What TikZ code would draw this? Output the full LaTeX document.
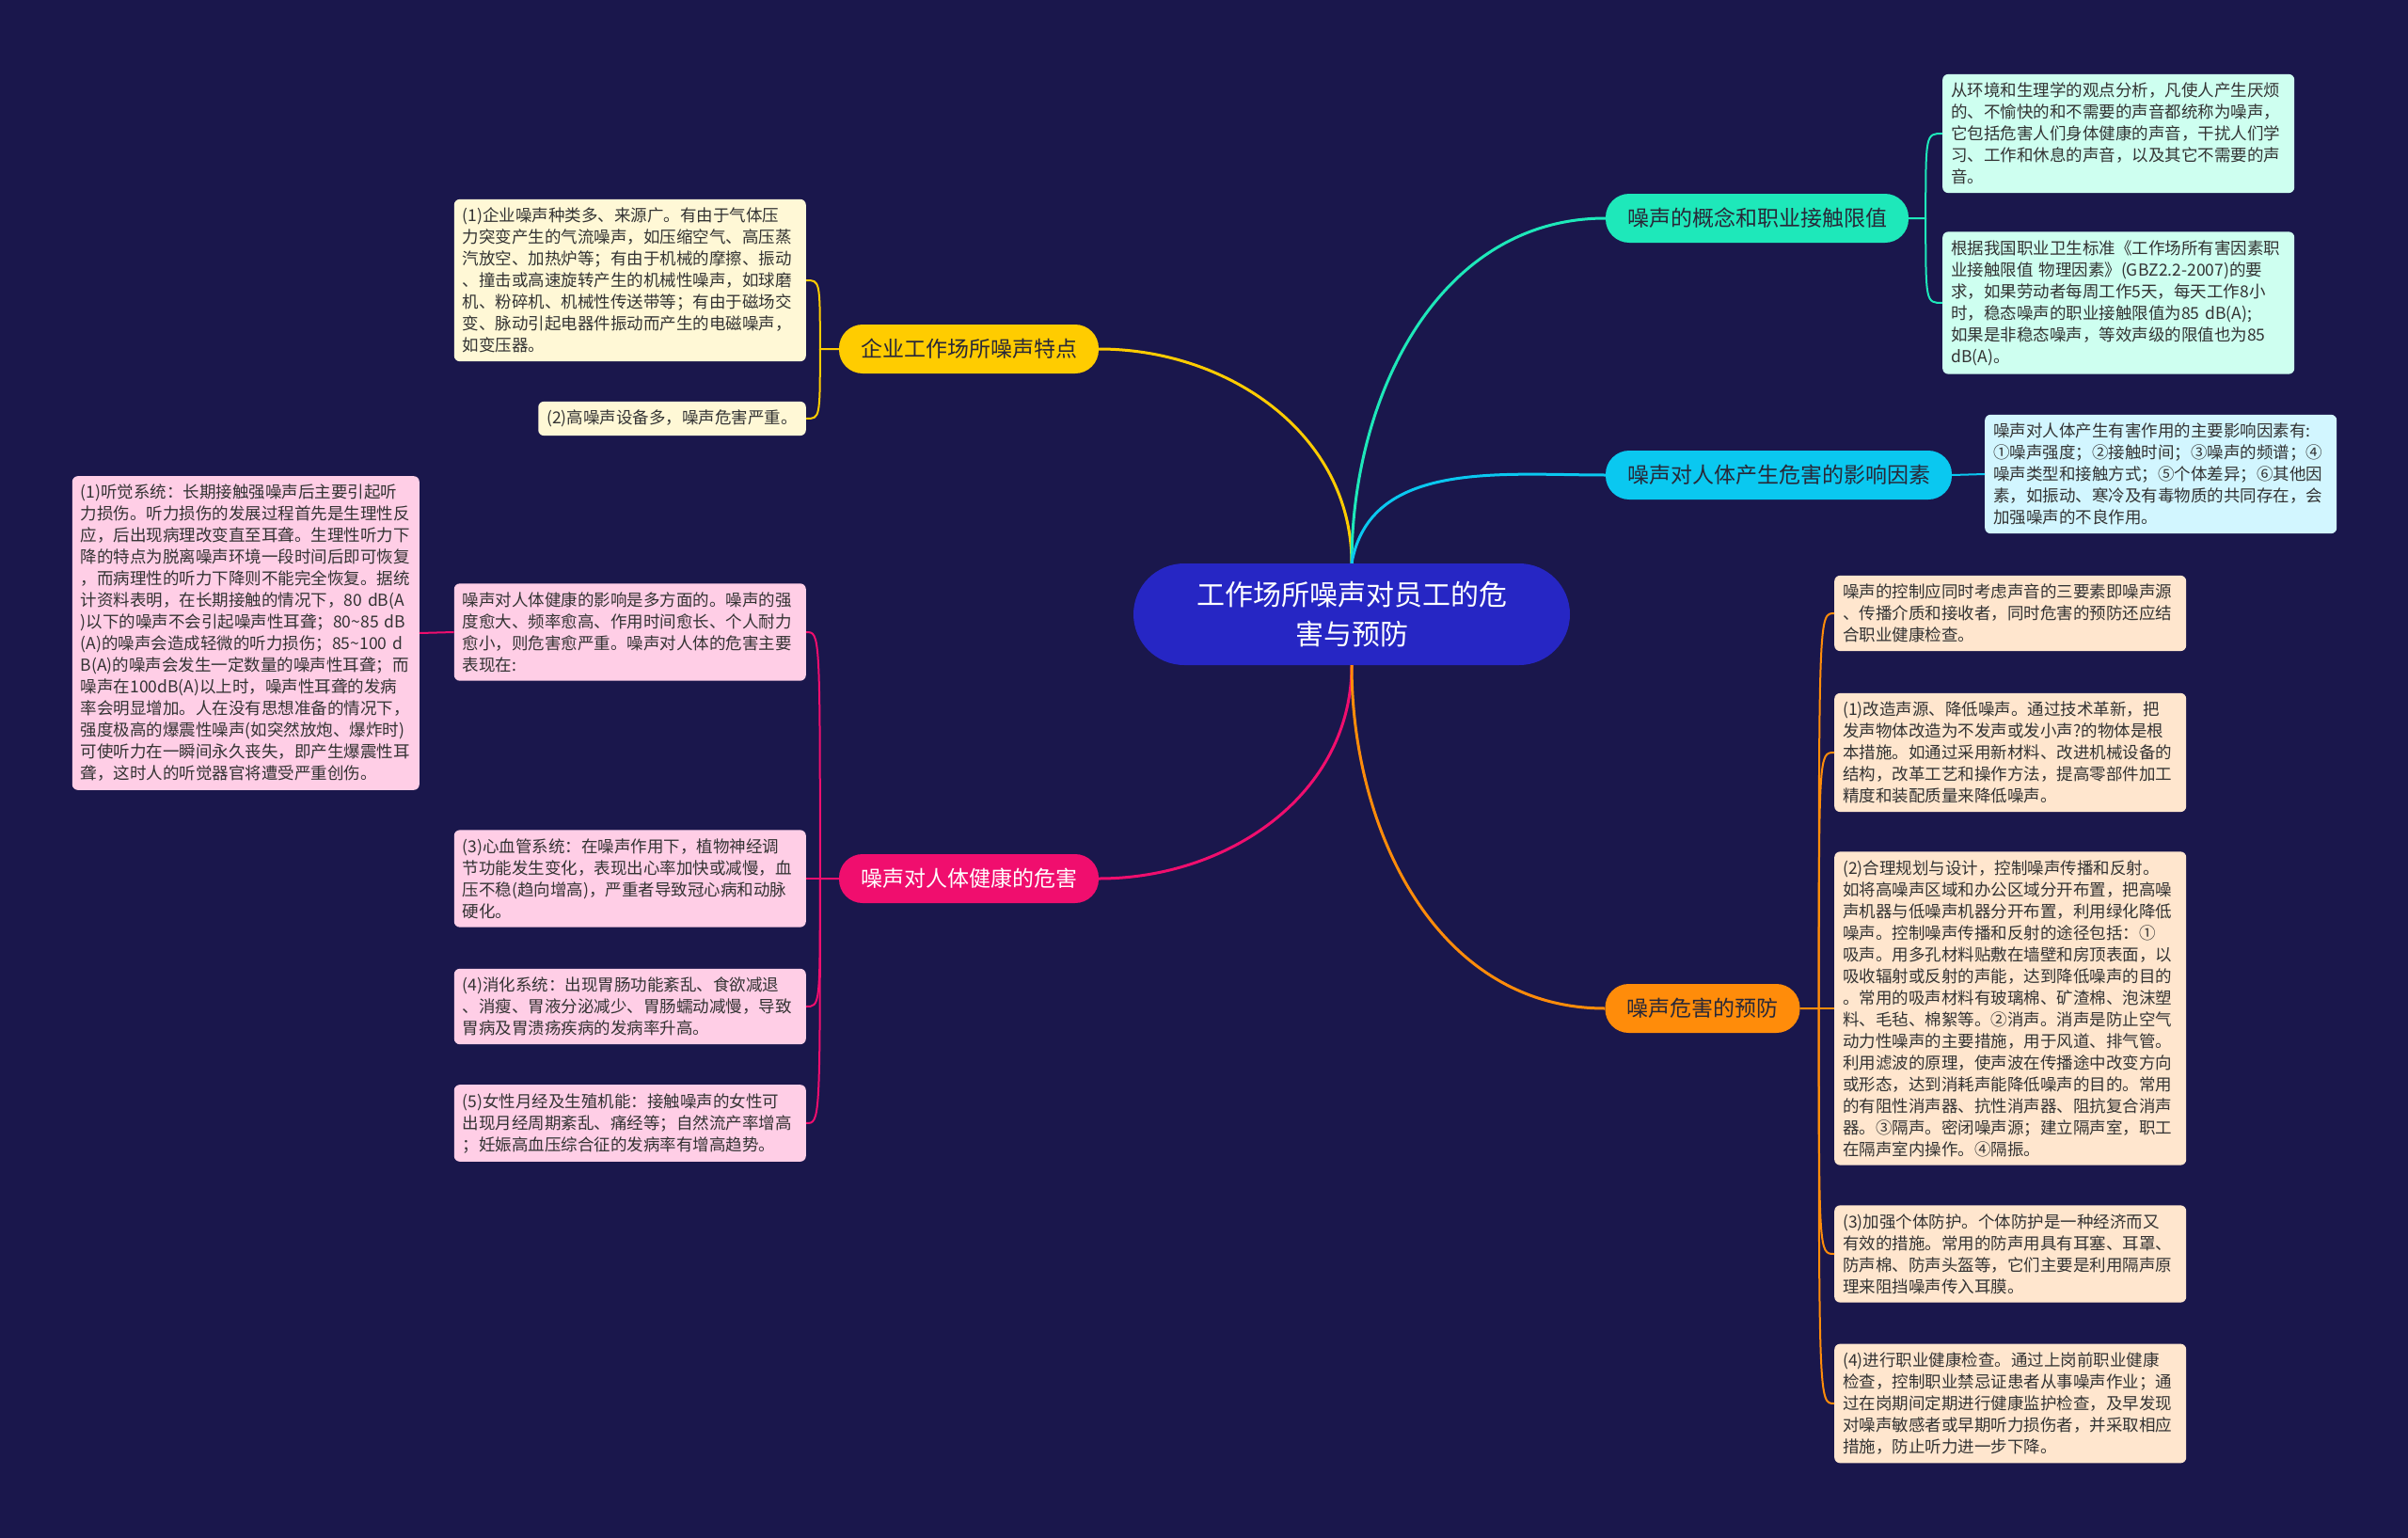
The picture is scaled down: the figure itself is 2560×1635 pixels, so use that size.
\documentclass[tikz,border=0pt]{standalone}
\usepackage{fontspec}
\setmainfont{Noto Sans CJK SC}
\usetikzlibrary{calc}
\definecolor{bgnavy}{RGB}{26,23,76}
\definecolor{rootblue}{RGB}{38,38,196}
\definecolor{tealtopic}{RGB}{30,232,186}
\definecolor{tealleaf}{RGB}{206,255,240}
\definecolor{cyantopic}{RGB}{10,200,240}
\definecolor{cyanleaf}{RGB}{210,246,255}
\definecolor{yellowtopic}{RGB}{255,204,0}
\definecolor{yellowleaf}{RGB}{255,248,214}
\definecolor{pinktopic}{RGB}{240,14,110}
\definecolor{pinkleaf}{RGB}{255,206,230}
\definecolor{orangetopic}{RGB}{255,140,10}
\definecolor{orangeleaf}{RGB}{255,230,206}
\definecolor{darktext}{RGB}{40,40,56}
\definecolor{leaftext}{RGB}{51,51,51}

\tikzset{
  rootbox/.style={fill=rootblue, text=white, rounded corners=54pt, minimum width=464pt,
    minimum height=108pt, align=center, font=\fontsize{30}{42}\selectfont},
  topic/.style={rounded corners=25pt, minimum height=52pt, inner xsep=23pt,
    text=darktext, font=\fontsize{23}{28}\selectfont},
  leaf/.style={rounded corners=6pt, inner xsep=9pt, inner ysep=9pt, align=left,
    text width=356pt, text=leaftext, font=\fontsize{17.5}{23}\selectfont},
  link/.style={line width=3pt},
  sublink/.style={line width=2pt},
}

\begin{document}
\begin{tikzpicture}[x=1pt,y=1pt]

\fill[bgnavy] (0,0) rectangle (2560,-1635);
\useasboundingbox (0,0) rectangle (2560,-1635);

% centre
\node[rootbox] (root) at (1437,-653) {工作场所噪声对员工的危\\害与预防};

% topics
\node[topic, fill=tealtopic] (tc) at (1868,-232) {噪声的概念和职业接触限值};
\node[topic, fill=cyantopic] (cf) at (1891,-505) {噪声对人体产生危害的影响因素};
\node[topic, fill=yellowtopic] (yf) at (1030,-371) {企业工作场所噪声特点};
\node[topic, fill=pinktopic, text=white] (ph) at (1030,-934) {噪声对人体健康的危害};
\node[topic, fill=orangetopic] (op) at (1810,-1072) {噪声危害的预防};

% teal leaves
\node[leaf, fill=tealleaf, anchor=west] (tc1) at (2065,-142) {从环境和生理学的观点分析，凡使人产生厌烦\\的、不愉快的和不需要的声音都统称为噪声，\\它包括危害人们身体健康的声音，干扰人们学\\习、工作和休息的声音，以及其它不需要的声\\音。};
\node[leaf, fill=tealleaf, anchor=west] (tc2) at (2065,-322) {根据我国职业卫生标准《工作场所有害因素职\\业接触限值 物理因素》(GBZ2.2-2007)的要\\求，如果劳动者每周工作5天，每天工作8小\\时，稳态噪声的职业接触限值为85 dB(A);\\如果是非稳态噪声，等效声级的限值也为85\\dB(A)。};

% cyan leaf
\node[leaf, fill=cyanleaf, anchor=west] (cf1) at (2110,-504) {噪声对人体产生有害作用的主要影响因素有:\\①噪声强度；②接触时间；③噪声的频谱；④\\噪声类型和接触方式；⑤个体差异；⑥其他因\\素，如振动、寒冷及有毒物质的共同存在，会\\加强噪声的不良作用。};

% yellow leaves
\node[leaf, fill=yellowleaf, anchor=east] (yf1) at (857,-298) {(1)企业噪声种类多、来源广。有由于气体压\\力突变产生的气流噪声，如压缩空气、高压蒸\\汽放空、加热炉等；有由于机械的摩擦、振动\\、撞击或高速旋转产生的机械性噪声，如球磨\\机、粉碎机、机械性传送带等；有由于磁场交\\变、脉动引起电器件振动而产生的电磁噪声，\\如变压器。};
\node[leaf, fill=yellowleaf, anchor=east, text width=] (yf2) at (857,-445) {(2)高噪声设备多，噪声危害严重。};

% pink leaves
\node[leaf, fill=pinkleaf, anchor=east] (ph0) at (857,-672) {噪声对人体健康的影响是多方面的。噪声的强\\度愈大、频率愈高、作用时间愈长、个人耐力\\愈小，则危害愈严重。噪声对人体的危害主要\\表现在:};
\node[leaf, fill=pinkleaf, anchor=east, text width=351pt] (ph1) at (446,-673) {(1)听觉系统：长期接触强噪声后主要引起听\\力损伤。听力损伤的发展过程首先是生理性反\\应，后出现病理改变直至耳聋。生理性听力下\\降的特点为脱离噪声环境一段时间后即可恢复\\，而病理性的听力下降则不能完全恢复。据统\\计资料表明，在长期接触的情况下，80 dB(A\\)以下的噪声不会引起噪声性耳聋；80\textasciitilde85 dB\\(A)的噪声会造成轻微的听力损伤；85\textasciitilde100 d\\B(A)的噪声会发生一定数量的噪声性耳聋；而\\噪声在100dB(A)以上时，噪声性耳聋的发病\\率会明显增加。人在没有思想准备的情况下，\\强度极高的爆震性噪声(如突然放炮、爆炸时)\\可使听力在一瞬间永久丧失，即产生爆震性耳\\聋，这时人的听觉器官将遭受严重创伤。};
\node[leaf, fill=pinkleaf, anchor=east] (ph3) at (857,-934) {(3)心血管系统：在噪声作用下，植物神经调\\节功能发生变化，表现出心率加快或减慢，血\\压不稳(趋向增高)，严重者导致冠心病和动脉\\硬化。};
\node[leaf, fill=pinkleaf, anchor=east] (ph4) at (857,-1070) {(4)消化系统：出现胃肠功能紊乱、食欲减退\\、消瘦、胃液分泌减少、胃肠蠕动减慢，导致\\胃病及胃溃疡疾病的发病率升高。};
\node[leaf, fill=pinkleaf, anchor=east] (ph5) at (857,-1194) {(5)女性月经及生殖机能：接触噪声的女性可\\出现月经周期紊乱、痛经等；自然流产率增高\\；妊娠高血压综合征的发病率有增高趋势。};

% orange leaves
\node[leaf, fill=orangeleaf, anchor=west] (op0) at (1950,-652) {噪声的控制应同时考虑声音的三要素即噪声源\\、传播介质和接收者，同时危害的预防还应结\\合职业健康检查。};
\node[leaf, fill=orangeleaf, anchor=west] (op1) at (1950,-800) {(1)改造声源、降低噪声。通过技术革新，把\\发声物体改造为不发声或发小声?的物体是根\\本措施。如通过采用新材料、改进机械设备的\\结构，改革工艺和操作方法，提高零部件加工\\精度和装配质量来降低噪声。};
\node[leaf, fill=orangeleaf, anchor=west] (op2) at (1950,-1072) {(2)合理规划与设计，控制噪声传播和反射。\\如将高噪声区域和办公区域分开布置，把高噪\\声机器与低噪声机器分开布置，利用绿化降低\\噪声。控制噪声传播和反射的途径包括：①\\吸声。用多孔材料贴敷在墙壁和房顶表面，以\\吸收辐射或反射的声能，达到降低噪声的目的\\。常用的吸声材料有玻璃棉、矿渣棉、泡沫塑\\料、毛毡、棉絮等。②消声。消声是防止空气\\动力性噪声的主要措施，用于风道、排气管。\\利用滤波的原理，使声波在传播途中改变方向\\或形态，达到消耗声能降低噪声的目的。常用\\的有阻性消声器、抗性消声器、阻抗复合消声\\器。③隔声。密闭噪声源；建立隔声室，职工\\在隔声室内操作。④隔振。};
\node[leaf, fill=orangeleaf, anchor=west] (op3) at (1950,-1333) {(3)加强个体防护。个体防护是一种经济而又\\有效的措施。常用的防声用具有耳塞、耳罩、\\防声棉、防声头盔等，它们主要是利用隔声原\\理来阻挡噪声传入耳膜。};
\node[leaf, fill=orangeleaf, anchor=west] (op4) at (1950,-1492) {(4)进行职业健康检查。通过上岗前职业健康\\检查，控制职业禁忌证患者从事噪声作业；通\\过在岗期间定期进行健康监护检查，及早发现\\对噪声敏感者或早期听力损伤者，并采取相应\\措施，防止听力进一步下降。};

% centre to topics
\draw[link, yellowtopic] (root.north) to[out=90,in=0] (yf.east);
\draw[link, tealtopic] (root.north) to[out=90,in=180] (tc.west);
\draw[link, cyantopic] (root.north) to[out=80,in=180] (cf.west);
\draw[link, pinktopic] (root.south) to[out=-90,in=0] (ph.east);
\draw[link, orangetopic] (root.south) to[out=-90,in=180] (op.west);

% topics to leaves
\coordinate (tcj) at ($(tc.east)+(18,0)$);
\draw[sublink, tealtopic] (tc.east) -- (tcj) .. controls (tcj |- tc1.west) .. (tc1.west);
\draw[sublink, tealtopic] (tcj) .. controls (tcj |- tc2.west) .. (tc2.west);

\draw[sublink, cyantopic] (cf.east) -- (cf1.west);

\coordinate (yfj) at ($(yf.west)+(-20,0)$);
\draw[sublink, yellowtopic] (yf.west) -- (yfj) .. controls (yfj |- yf1.east) .. (yf1.east);
\draw[sublink, yellowtopic] (yfj) .. controls (yfj |- yf2.east) .. (yf2.east);

\coordinate (phj) at ($(ph.west)+(-20,0)$);
\draw[sublink, pinktopic] (ph.west) -- (phj) .. controls (phj |- ph0.east) .. (ph0.east);
\draw[sublink, pinktopic] (phj) -- (ph3.east);
\draw[sublink, pinktopic] (phj) .. controls (phj |- ph4.east) .. (ph4.east);
\draw[sublink, pinktopic] (phj) .. controls (phj |- ph5.east) .. (ph5.east);
\draw[sublink, pinktopic] (ph0.west) -- (ph1.east);

\coordinate (opj) at ($(op.east)+(20,0)$);
\draw[sublink, orangetopic] (op.east) -- (opj) .. controls (opj |- op0.west) .. (op0.west);
\draw[sublink, orangetopic] (opj) .. controls (opj |- op1.west) .. (op1.west);
\draw[sublink, orangetopic] (opj) -- (op2.west);
\draw[sublink, orangetopic] (opj) .. controls (opj |- op3.west) .. (op3.west);
\draw[sublink, orangetopic] (opj) .. controls (opj |- op4.west) .. (op4.west);

\end{tikzpicture}
\end{document}
